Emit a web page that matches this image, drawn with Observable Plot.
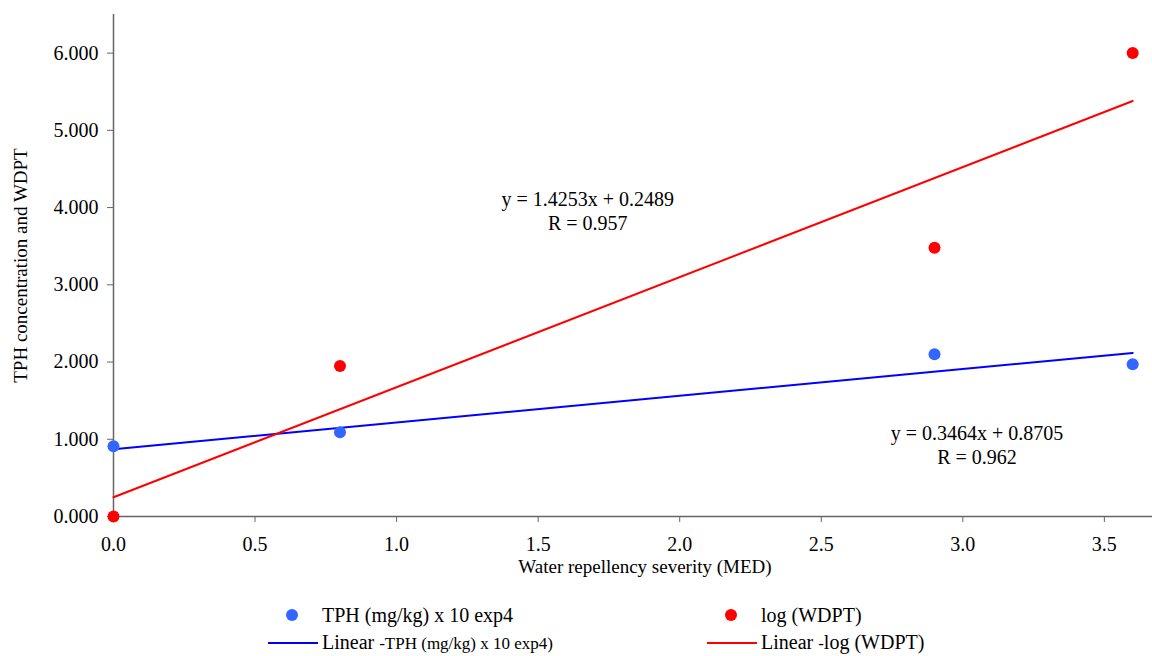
<!DOCTYPE html>
<html><head><meta charset="utf-8">
<script src="https://cdn.jsdelivr.net/npm/d3@7"></script>
<script src="https://cdn.jsdelivr.net/npm/@observablehq/plot@0.6"></script>
<style>
body{margin:0;background:#fff;font-family:"Liberation Serif","Times New Roman",serif;overflow:hidden;}
#chart svg{display:block;}
#chart svg text{font-family:"Liberation Serif","Times New Roman",serif;}
#legend{position:relative;height:66px;width:1152px;}
.item{position:absolute;display:flex;align-items:center;font-size:20px;line-height:22px;color:#000;height:22px;transform:translateY(-50%);white-space:nowrap;}
.sw{width:50px;height:22px;position:relative;margin-right:4px;}
.dot{position:absolute;left:18px;top:5px;width:12px;height:12px;border-radius:50%;}
.ln{position:absolute;left:0;top:10px;width:50px;height:2px;}
.small{font-size:17px;}
</style></head><body><div id="chart"></div><div id="legend"></div>
<script>
// ---- data ----
const severity = [0, 0.8, 2.9, 3.6];
const tph = [0.91, 1.09, 2.10, 1.97];
const logWdpt = [0.0, 1.95, 3.48, 6.0];
const seriesNames = ["TPH (mg/kg) x 10 exp4", "log (WDPT)"];
const slopes = [0.3464, 1.4253];
const intercepts = [0.8705, 0.2489];
const rValues = [0.962, 0.957];
const xTicks = [0, 0.5, 1.0, 1.5, 2.0, 2.5, 3.0, 3.5];
const yTicks = [0, 1, 2, 3, 4, 5, 6];
const xTitle = "Water repellency severity (MED)";
const yTitle = "TPH concentration and WDPT";

const serif = '"Liberation Serif","Times New Roman",serif';
const dotColors = ["#3366ff", "#ff0000"];
const lineColors = ["#0000ff", "#ff0000"];

const points = [];
severity.forEach((x, i) => {
  points.push({x, y: tph[i], s: 0});
  points.push({x, y: logWdpt[i], s: 1});
});
const xMin = d3.min(severity), xMax = d3.max(severity);
const fits = [];
slopes.forEach((m, s) => {
  [xMin, xMax].forEach(x => fits.push({x, y: m * x + intercepts[s], s}));
});
const eqFmt = s => `y = ${slopes[s].toFixed(4)}x + ${intercepts[s].toFixed(4)}\nR = ${rValues[s].toFixed(3)}`;
const annotations = [
  {x: 1.675, y: 3.96, text: eqFmt(1)},
  {x: 3.05, y: 0.93, text: eqFmt(0)}
];

const chart = Plot.plot({
  width: 1152,
  height: 590,
  marginLeft: 113,
  marginRight: 0,
  marginTop: 14,
  marginBottom: 74,
  style: {fontFamily: serif, background: "#fff", color: "#000"},
  x: {domain: [0, 3.67]},
  y: {domain: [0, 6.5]},
  marks: [
    Plot.axisY({ticks: yTicks, tickFormat: d3.format(".3f"), tickSize: 6, tickPadding: 9, fontSize: 20, fontFamily: serif, stroke: "#666", fill: "#000", label: null}),
    Plot.axisX({ticks: xTicks, tickFormat: d3.format(".1f"), tickSize: 6, tickPadding: 14, fontSize: 20, fontFamily: serif, stroke: "#666", fill: "#000", label: null}),
    Plot.ruleX([0], {stroke: "#666", strokeWidth: 1.5}),
    Plot.ruleY([0], {stroke: "#666", strokeWidth: 1.5}),
    Plot.line(fits, {x: "x", y: "y", z: "s", stroke: d => lineColors[d.s], strokeWidth: 2}),
    Plot.dot(points, {x: "x", y: "y", r: 6, fill: d => dotColors[d.s], stroke: "none"}),
    Plot.text(annotations, {x: "x", y: "y", text: "text", fontSize: 20, fontFamily: serif, lineHeight: 1.2, fill: "#000"}),
    Plot.text([xTitle], {frameAnchor: "bottom", textAnchor: "middle", dx: 12, dy: 56, fontSize: 19, fontFamily: serif, fill: "#000", style: "word-spacing:2px"}),
    Plot.text([yTitle], {frameAnchor: "left", textAnchor: "middle", rotate: -90, dx: -93, fontSize: 19, fontFamily: serif, fill: "#000"})
  ]
});
document.getElementById("chart").appendChild(chart);

// ---- legend ----
const legend = document.getElementById("legend");
const items = [
  {left: 268, top: 25, kind: "dot", color: dotColors[0], html: seriesNames[0]},
  {left: 707, top: 25, kind: "dot", color: dotColors[1], html: seriesNames[1]},
  {left: 268, top: 53, kind: "ln", color: lineColors[0], html: `Linear <span class="small">-${seriesNames[0]})</span>`},
  {left: 707, top: 53, kind: "ln", color: lineColors[1], html: `Linear <span class="small">-</span>${seriesNames[1]}`}
];
items.forEach(it => {
  const el = document.createElement("div");
  el.className = "item";
  el.style.left = it.left + "px";
  el.style.top = it.top + "px";
  el.innerHTML = `<div class="sw"><div class="${it.kind}" style="background:${it.color}"></div></div><span>${it.html}</span>`;
  legend.appendChild(el);
});
</script>
</body></html>
